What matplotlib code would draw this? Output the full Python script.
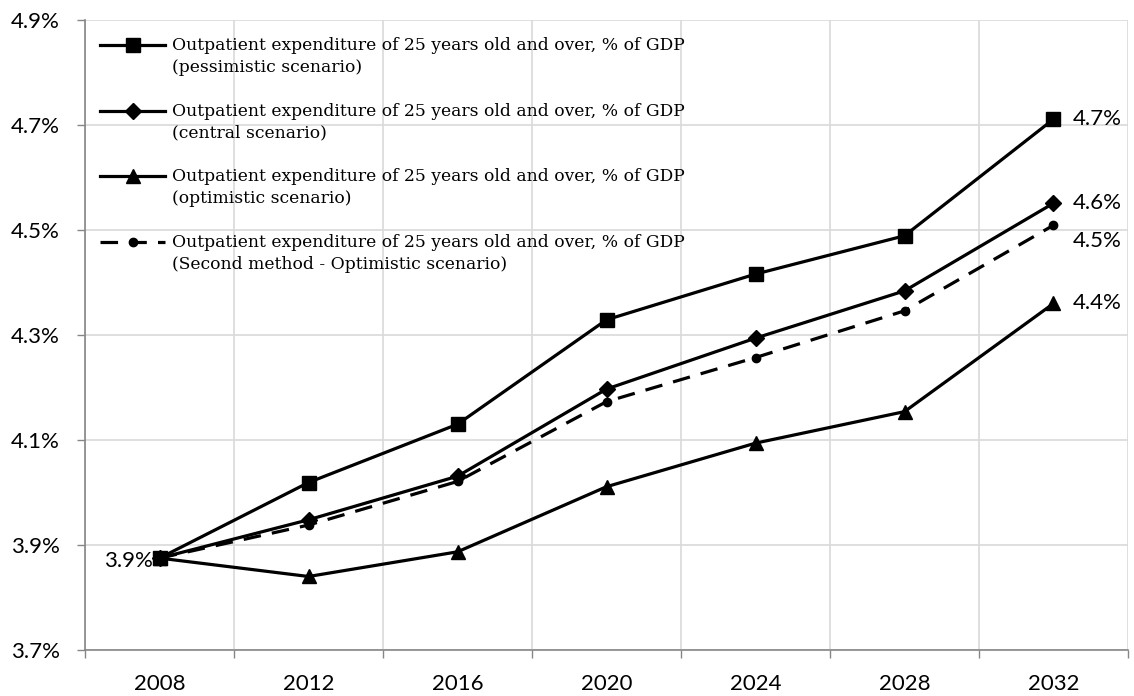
import matplotlib
matplotlib.use('Agg')
import matplotlib.pyplot as plt
from matplotlib.ticker import FixedLocator, FuncFormatter

# Data
years = ['2008', '2012', '2016', '2020', '2024', '2028', '2032']
pessimistic = [3.875, 4.019, 4.130, 4.329, 4.416, 4.489, 4.711]
central = [3.875, 3.948, 4.031, 4.197, 4.294, 4.384, 4.551]
optimistic = [3.875, 3.840, 3.887, 4.011, 4.094, 4.154, 4.360]
second_method = [3.875, 3.938, 4.021, 4.173, 4.257, 4.346, 4.509]

labels = [
    'Outpatient expenditure of 25 years old and over, % of GDP\n(pessimistic scenario)',
    'Outpatient expenditure of 25 years old and over, % of GDP\n(central scenario)',
    'Outpatient expenditure of 25 years old and over, % of GDP\n(optimistic scenario)',
    'Outpatient expenditure of 25 years old and over, % of GDP\n(Second method - Optimistic scenario)',
]

SANS = ['Lato', 'DejaVu Sans']
SERIF = ['DejaVu Serif']
LEG_FS = 12.3
LEG_LS = 1.4

fig = plt.figure(figsize=(11.34, 6.96), dpi=100)
ax = fig.add_axes([0.075, 0.0661, 0.9197, 0.9052])

x = list(range(len(years)))
lw = 2.3
ax.plot(x, pessimistic, color='black', lw=lw, marker='s', ms=10, label=labels[0], zorder=4)
ax.plot(x, central, color='black', lw=lw, marker='D', ms=8, label=labels[1], zorder=4)
ax.plot(x, optimistic, color='black', lw=lw, marker='^', ms=10, label=labels[2], zorder=4)
ax.plot(x, second_method, color='black', lw=lw, marker='o', ms=6, dashes=(5.5, 3.5),
        label=labels[3], zorder=3)

# data labels at the ends
ax.annotate('3.9%', (0, pessimistic[0]), xytext=(-5, -2), textcoords='offset points',
            ha='right', va='center', fontsize=16, family=SANS, zorder=2)
ends = [(pessimistic[-1], 0), (central[-1], 0), (second_method[-1], -11), (optimistic[-1], 0)]
for val, dy in ends:
    ax.annotate('%.1f%%' % val, (6, val), xytext=(14, dy), textcoords='offset points',
                ha='left', va='center', fontsize=16, family=SANS)

ax.set_xlim(-0.5, 6.5)
ax.set_ylim(3.7, 4.9)

# y axis
ax.yaxis.set_major_locator(FixedLocator([3.7, 3.9, 4.1, 4.3, 4.5, 4.7, 4.9]))
ax.yaxis.set_major_formatter(FuncFormatter(lambda v, p: '%.1f%%' % v))
ax.tick_params(axis='y', length=6, width=1, color='#868686', pad=12, labelsize=16)

# x axis: labels at category centres, ticks/grid at boundaries
ax.set_xticks(x)
ax.set_xticklabels(years)
ax.set_xticks([i - 0.5 for i in range(len(years) + 1)], minor=True)
ax.tick_params(axis='x', which='major', length=0, pad=17, labelsize=16)
ax.tick_params(axis='x', which='minor', length=6, width=1, color='#868686')

for lab in ax.get_xticklabels() + ax.get_yticklabels():
    lab.set_family(SANS)

ax.grid(True, axis='y', which='major', color='#d9d9d9', lw=1.2)
ax.grid(True, axis='x', which='minor', color='#d9d9d9', lw=1.2)
ax.set_axisbelow(True)

for s in ['top', 'right']:
    ax.spines[s].set_visible(False)
for s in ['left', 'bottom']:
    ax.spines[s].set_color('#868686')
    ax.spines[s].set_linewidth(1.2)

leg = ax.legend(loc='upper left', bbox_to_anchor=(0.008, 0.984), frameon=False,
                prop={'family': SERIF, 'size': LEG_FS}, handlelength=3.8, handletextpad=0.4,
                labelspacing=1.55, borderaxespad=0)
for t in leg.get_texts():
    t.set_linespacing(LEG_LS)

# line the legend keys up with the first text line, as in the original
for ln in leg.get_lines():
    ln.set_ydata([y + 0.5 * LEG_LS * LEG_FS for y in ln.get_ydata()])

fig.savefig('out.png', dpi=100)
